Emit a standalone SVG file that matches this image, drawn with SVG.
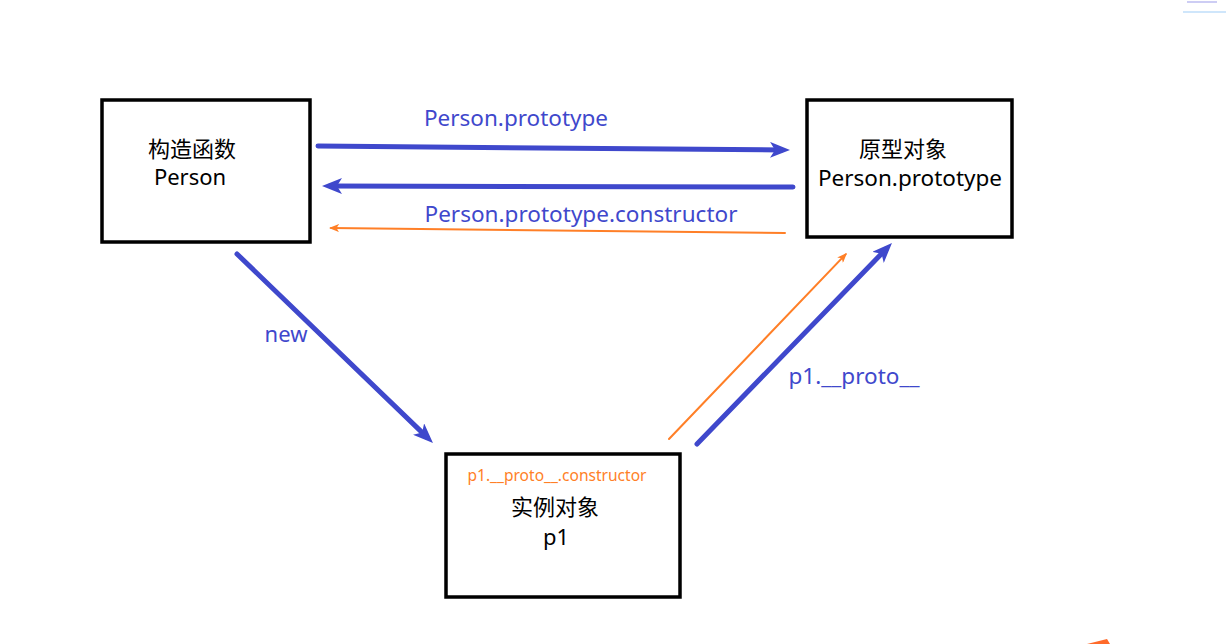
<svg xmlns="http://www.w3.org/2000/svg" width="1226" height="644" viewBox="0 0 1226 644">
<style>
.box{fill:#fff;stroke:#000;stroke-width:3.5}
.t{font-family:"Noto Sans","Noto Sans CJK SC",sans-serif;font-size:22px;fill:#000;text-anchor:middle}
.bl{fill:#3F48CC}
.or{fill:#FF7F27}
.bline{stroke:#3F48CC;stroke-width:5;stroke-linecap:round;fill:none}
.oline{stroke:#FF7F27;stroke-width:2;stroke-linecap:round;fill:none}
</style>
<defs>
<marker id="ab" viewBox="0 0 20 16" refX="12" refY="8" markerWidth="20" markerHeight="16" markerUnits="userSpaceOnUse" orient="auto">
<path d="M0,0 L20,8 L0,16 L5,8 Z" fill="#3F48CC"/>
</marker>
<marker id="ao" viewBox="0 0 10 8" refX="8" refY="4" markerWidth="10" markerHeight="8" markerUnits="userSpaceOnUse" orient="auto">
<path d="M0,0 L10,4 L0,8 L2.5,4 Z" fill="#FF7F27"/>
</marker>
</defs>
<rect width="1226" height="644" fill="#fff"/>
<g id="ctor">
<rect class="box" x="102" y="100" width="208" height="142"/>
<text class="t" x="192" y="157">构造函数</text>
<text class="t" x="190" y="185">Person</text>
</g>
<g id="proto">
<rect class="box" x="807" y="100" width="205" height="137"/>
<text class="t" x="903" y="157">原型对象</text>
<text class="t" x="910" y="186" textLength="184" lengthAdjust="spacingAndGlyphs">Person.prototype</text>
</g>
<g id="inst">
<rect class="box" x="446" y="454" width="234" height="143"/>
<text class="t or" x="557" y="481" style="font-size:16px" textLength="179" lengthAdjust="spacingAndGlyphs">p1.__proto__.constructor</text>
<text class="t" x="555" y="515">实例对象</text>
<text class="t" x="556" y="545">p1</text>
</g>
<g id="connectors">
<line class="bline" x1="318" y1="146" x2="782" y2="150" marker-end="url(#ab)"/>
<line class="bline" x1="793" y1="187" x2="330" y2="186" marker-end="url(#ab)"/>
<line class="oline" x1="785" y1="233" x2="331" y2="228" marker-end="url(#ao)"/>
<line class="bline" x1="237" y1="254" x2="427.2" y2="437.4" marker-end="url(#ab)"/>
<line class="bline" x1="697" y1="444" x2="886.4" y2="248.7" marker-end="url(#ab)"/>
<line class="oline" x1="669" y1="439" x2="845.6" y2="254.4" marker-end="url(#ao)"/>
<text class="t bl" x="516" y="126" textLength="184" lengthAdjust="spacingAndGlyphs">Person.prototype</text>
<text class="t bl" x="581" y="222" textLength="313" lengthAdjust="spacingAndGlyphs">Person.prototype.constructor</text>
<text class="t bl" x="286" y="342">new</text>
<text class="t bl" x="854" y="384" textLength="131" lengthAdjust="spacingAndGlyphs">p1.__proto__</text>
</g>
<rect x="1183" y="11" width="43" height="2" fill="#cfe6fb"/>
<rect x="1187" y="1" width="30" height="2" fill="#b8b8ef" opacity="0.7"/>
<path d="M1087,644 L1107,639 L1110,644 Z" fill="#FF6A2A"/>
</svg>
